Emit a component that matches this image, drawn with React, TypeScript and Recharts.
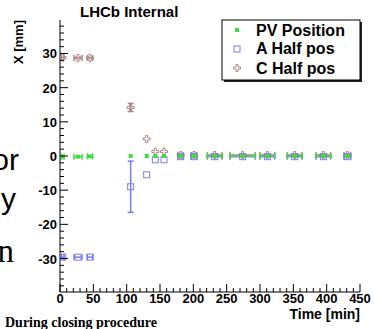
import React from 'react';
import { ScatterChart, Scatter, XAxis, YAxis, ErrorBar } from 'recharts';

const times = [4, 27, 45, 106, 130, 143, 156, 181, 201, 232, 274, 311, 352, 395, 431];
const timeErr = [2, 6, 4, null, null, null, null, 4, 4, 11, 19, 11, 11, 11, 5];
const pvPos = [-0.2, -0.2, -0.1, 0, 0, 0, 0, 0, 0, 0, 0, 0, 0, 0, 0];
const aHalf = [-29.6, -29.6, -29.6, -9.0, -5.5, -1.1, -1.1, -0.2, -0.2, -0.2, -0.2, -0.2, -0.2, -0.2, -0.2];
const aErr = [null, null, null, 7.5, null, null, null, null, null, null, null, null, null, null, null];
const cHalf = [28.8, 28.7, 28.7, 14.2, 5.0, 1.3, 1.3, 0.3, 0.3, 0.3, 0.3, 0.3, 0.3, 0.3, 0.3];
const cErr = [null, null, null, 1.2, null, null, null, null, null, null, null, null, null, null, null];

const xTicks = [0, 10, 20, 30, 40, 50, 60, 70, 80, 90, 100, 110, 120, 130, 140, 150, 160, 170, 180, 190, 200, 210, 220, 230, 240, 250, 260, 270, 280, 290, 300, 310, 320, 330, 340, 350, 360, 370, 380, 390, 400, 410, 420, 430, 440, 450];
const yTicks = [-38, -36, -34, -32, -30, -28, -26, -24, -22, -20, -18, -16, -14, -12, -10, -8, -6, -4, -2, 0, 2, 4, 6, 8, 10, 12, 14, 16, 18, 20, 22, 24, 26, 28, 30, 32, 34, 36, 38];

const PV_COLOR = '#3fdc3f';
const A_COLOR = '#7c7cf0';
const C_COLOR = '#b08888';
const FONT = '"Liberation Sans", Arial, sans-serif';
const SERIF = '"Liberation Serif", "Times New Roman", serif';

const pvData = times.map((t, i) => ({ t, v: pvPos[i], ex: timeErr[i] }));
const aData = times.map((t, i) => ({ t, v: aHalf[i], ex: timeErr[i], ey: aErr[i] }));
const cData = times.map((t, i) => ({ t, v: cHalf[i], ex: timeErr[i], ey: cErr[i] }));

const PVMark = ({ cx, cy }: any) => <rect x={cx - 2} y={cy - 2} width={4} height={4} fill={PV_COLOR} />;
const AMark = ({ cx, cy }: any) => (
  <rect x={cx - 3} y={cy - 3} width={6} height={6} fill="none" stroke={A_COLOR} strokeWidth={1} />
);
const CMark = ({ cx, cy }: any) => (
  <path
    d={`M${cx - 1},${cy - 3.5}h2v2.5h2.5v2h-2.5v2.5h-2v-2.5h-2.5v-2h2.5z`}
    fill="none"
    stroke={C_COLOR}
    strokeWidth={1}
  />
);

function YTick({ x, y, payload }: any) {
  const major = payload.value % 10 === 0;
  return (
    <g>
      <line x1={x} x2={x + (major ? 8 : 4)} y1={y} y2={y} stroke="#000" />
      {major && (
        <text x={x - 3} y={y + 5} textAnchor="end" fontSize={13} fontWeight="bold" fontFamily={FONT} fill="#000">
          {payload.value}
        </text>
      )}
    </g>
  );
}

function XTick({ x, y, payload }: any) {
  const major = payload.value % 50 === 0;
  return (
    <g>
      <line x1={x} x2={x} y1={y} y2={y - (major ? 8 : 4)} stroke="#000" />
      {major && (
        <text x={x} y={y + 11} textAnchor="middle" fontSize={13} fontWeight="bold" fontFamily={FONT} fill="#000">
          {payload.value}
        </text>
      )}
    </g>
  );
}

export default function App() {
  return (
    <div style={{ position: 'absolute', left: 0, top: 0, width: 374, height: 329, background: '#fff' }}>
      <ScatterChart width={374} height={329} margin={{ top: 20, right: 14, bottom: 0, left: 0 }}>
        <XAxis
          dataKey="t"
          type="number"
          domain={[0, 450]}
          ticks={xTicks}
          interval={0}
          tick={<XTick />}
          tickLine={false}
          tickSize={0}
          tickMargin={0}
          height={37}
          axisLine={{ stroke: '#000' }}
          allowDataOverflow
        />
        <XAxis xAxisId="top" orientation="top" type="number" domain={[0, 450]} tick={false} tickLine={false} height={0} axisLine={{ stroke: '#999' }} />
        <YAxis
          dataKey="v"
          type="number"
          domain={[-39.8, 39.8]}
          ticks={yTicks}
          interval={0}
          tick={<YTick />}
          tickLine={false}
          tickSize={0}
          tickMargin={0}
          width={60}
          axisLine={{ stroke: '#000' }}
          allowDataOverflow
        />
        <YAxis yAxisId="right" orientation="right" type="number" domain={[-39.8, 39.8]} tick={false} tickLine={false} width={0} axisLine={{ stroke: '#333' }} />
        <Scatter data={cData} shape={<CMark />} isAnimationActive={false}>
          <ErrorBar dataKey="ex" direction="x" width={3} stroke={C_COLOR} isAnimationActive={false} />
          <ErrorBar dataKey="ey" direction="y" width={3} stroke={C_COLOR} isAnimationActive={false} />
        </Scatter>
        <Scatter data={aData} shape={<AMark />} isAnimationActive={false}>
          <ErrorBar dataKey="ex" direction="x" width={3} stroke={A_COLOR} isAnimationActive={false} />
          <ErrorBar dataKey="ey" direction="y" width={3} stroke={A_COLOR} isAnimationActive={false} />
        </Scatter>
        <Scatter data={pvData} shape={<PVMark />} isAnimationActive={false}>
          <ErrorBar dataKey="ex" direction="x" width={3} stroke={PV_COLOR} isAnimationActive={false} />
        </Scatter>
      </ScatterChart>
      <svg width={374} height={329} style={{ position: 'absolute', left: 0, top: 0, pointerEvents: 'none' }}>
        <text x={80} y={17} fontSize={15} fontWeight="bold" fontFamily={FONT}>LHCb Internal</text>
        <text transform="translate(23,20) rotate(-90)" textAnchor="end" fontSize={13} fontWeight="bold" fontFamily={FONT}>X [mm]</text>
        <text x={360} y={319} textAnchor="end" fontSize={14} fontWeight="bold" fontFamily={FONT}>Time [min]</text>
        <text x={5} y={327} fontSize={14} fontWeight="bold" fontFamily={SERIF}>During closing procedure</text>
        <text x={19} y={170} textAnchor="end" fontSize={30} fontFamily={FONT}>or</text>
        <text x={16} y={209} textAnchor="end" fontSize={30} fontFamily={FONT}>y</text>
        <text x={14} y={262} textAnchor="end" fontSize={33} fontFamily={SERIF}>n</text>
        <rect x={224} y={22} width={138} height={60} fill="#222" />
        <rect x={222} y={20} width={138} height={60} fill="#fff" stroke="#000" strokeWidth={1} />
        <PVMark cx={237} cy={30} />
        <AMark cx={237} cy={49} />
        <CMark cx={237} cy={68} />
        <text x={256} y={35.5} fontSize={16} fontWeight="bold" fontFamily={FONT}>PV Position</text>
        <text x={256} y={54} fontSize={16} fontWeight="bold" fontFamily={FONT}>A Half pos</text>
        <text x={256} y={74} fontSize={16} fontWeight="bold" fontFamily={FONT}>C Half pos</text>
      </svg>
    </div>
  );
}
